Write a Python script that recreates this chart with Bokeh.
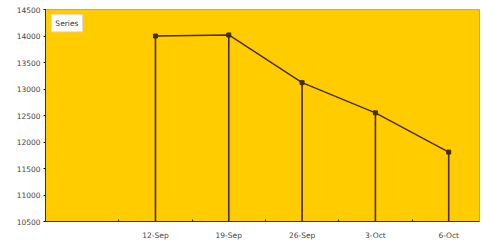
from bokeh.plotting import figure
from bokeh.models import FixedTicker, Range1d, Label
from bokeh.embed import file_html
from bokeh.resources import INLINE

categories = ["12-Sep", "19-Sep", "26-Sep", "3-Oct", "6-Oct"]
positions = [1, 2, 3, 4, 5]
values = [14000, 14020, 13120, 12550, 11810]
y_ticks = [10500, 11000, 11500, 12000, 12500, 13000, 13500, 14000, 14500]
series_name = "Series"

p = figure(width=481, height=242, output_backend="svg", toolbar_location=None,
           x_range=Range1d(-0.5, 5.42), y_range=Range1d(10500, 14500),
           min_border_left=45, min_border_right=2, min_border_top=9, min_border_bottom=20)

p.background_fill_color = "#FFCC00"
p.border_fill_color = "white"
p.outline_line_color = "#b0a890"
p.xgrid.visible = False
p.ygrid.visible = False

line_col = "#4a2e00"
p.segment(x0=positions, y0=[y_ticks[0]] * len(values), x1=positions, y1=values,
          line_color=line_col, line_width=1.6)
p.line(positions, values, line_color=line_col, line_width=1.5)
p.scatter(positions, values, marker="square", size=4, color=line_col)

p.xaxis.ticker = FixedTicker(ticks=positions, minor_ticks=[0.5, 1.5, 2.5, 3.5, 4.5])
p.xaxis.major_label_overrides = {pos: c for pos, c in zip(positions, categories)}
p.xaxis.major_tick_line_color = None
p.xaxis.minor_tick_in = 2
p.xaxis.minor_tick_out = 0
p.xaxis.minor_tick_line_color = "#333333"
p.yaxis.ticker = FixedTicker(ticks=y_ticks)
p.yaxis.major_tick_in = 0
p.yaxis.major_tick_out = 2
p.yaxis.minor_tick_line_color = None

for ax in (p.xaxis[0], p.yaxis[0]):
    ax.axis_line_color = "#333333"
    ax.major_label_text_font = "DejaVu Sans"
    ax.major_label_text_font_size = "7.5px"
    ax.major_label_text_color = "#444444"
    ax.major_label_standoff = 3

lbl = Label(x=-0.42, y=14240, text=series_name, text_font="DejaVu Sans",
            text_font_size="7.5px", text_color="#333333", text_baseline="middle",
            background_fill_color="white", border_line_color="#dddddd", padding=4)
p.add_layout(lbl)

open("out.html", "w").write(file_html(p, INLINE))
